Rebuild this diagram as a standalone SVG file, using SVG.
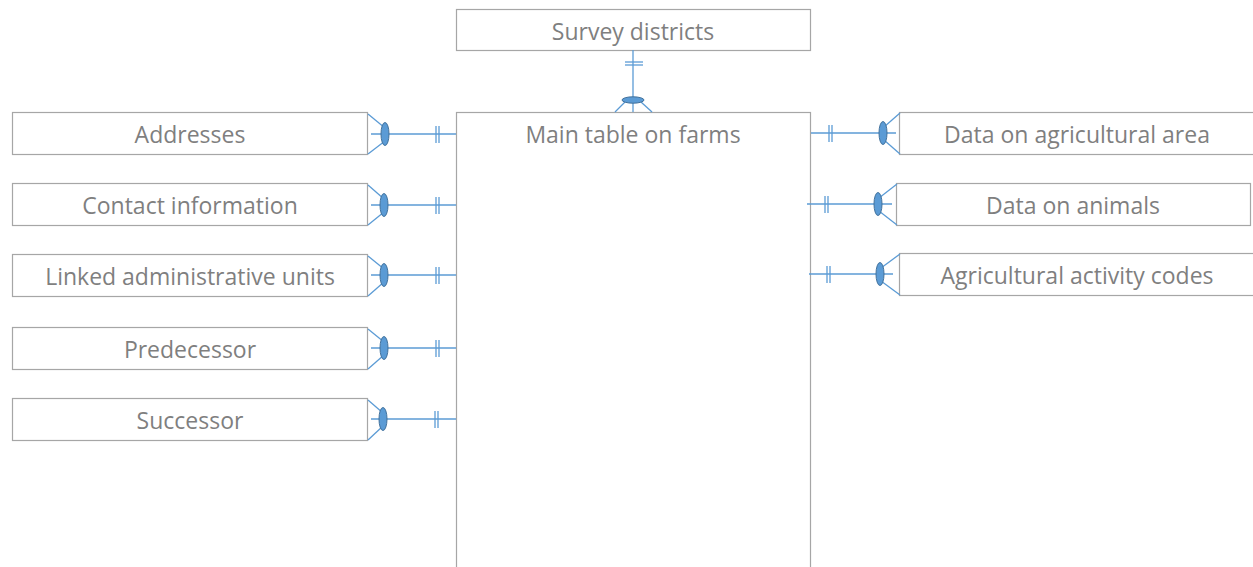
<svg xmlns="http://www.w3.org/2000/svg" width="1253" height="567" viewBox="0 0 1253 567">
  <defs>
    <style>
      .box { fill: #ffffff; stroke: #a6a6a6; stroke-width: 1.2; }
      .label { font-family: "Open Sans", "Noto Sans", sans-serif; font-size: 23px; fill: #7f7f7f; text-anchor: middle; dominant-baseline: central; }
      .rel { stroke: #5b9bd5; stroke-width: 1.3; fill: none; }
      .one { fill: #5b9bd5; stroke: #41719c; stroke-width: 1; }
    </style>
  </defs>

  <!-- Tables -->
  <g id="survey-districts">
    <rect class="box" x="456.5" y="9.5" width="354" height="41"/>
    <text class="label" x="633" y="31">Survey districts</text>
  </g>
  <g id="main-table">
    <rect class="box" x="456.5" y="112.5" width="354" height="470"/>
    <text class="label" x="633" y="134">Main table on farms</text>
  </g>
  <g id="addresses">
    <rect class="box" x="12.5" y="112.5" width="355" height="42"/>
    <text class="label" x="190" y="134">Addresses</text>
  </g>
  <g id="contact-information">
    <rect class="box" x="12.5" y="183.5" width="355" height="42"/>
    <text class="label" x="190" y="205">Contact information</text>
  </g>
  <g id="linked-administrative-units">
    <rect class="box" x="12.5" y="254.5" width="355" height="42"/>
    <text class="label" x="190" y="276">Linked administrative units</text>
  </g>
  <g id="predecessor">
    <rect class="box" x="12.5" y="327.5" width="355" height="42"/>
    <text class="label" x="190" y="349">Predecessor</text>
  </g>
  <g id="successor">
    <rect class="box" x="12.5" y="398.5" width="355" height="42"/>
    <text class="label" x="190" y="420">Successor</text>
  </g>
  <g id="data-on-agricultural-area">
    <rect class="box" x="899.5" y="112.5" width="360" height="42"/>
    <text class="label" x="1077" y="134">Data on agricultural area</text>
  </g>
  <g id="data-on-animals">
    <rect class="box" x="896.5" y="183.5" width="354" height="42"/>
    <text class="label" x="1073" y="205">Data on animals</text>
  </g>
  <g id="agricultural-activity-codes">
    <rect class="box" x="899.5" y="253.5" width="360" height="42"/>
    <text class="label" x="1077" y="275">Agricultural activity codes</text>
  </g>

  <!-- Relationships: one-and-only-one at the main table, crow's foot with ring at the child -->
  <g id="connectors">
    <!-- Survey districts -->
    <g>
      <line class="rel" x1="633" y1="50" x2="633" y2="112"/>
      <line class="rel" x1="625" y1="62" x2="643" y2="62"/>
      <line class="rel" x1="625" y1="65" x2="643" y2="65"/>
      <line class="rel" x1="625" y1="102" x2="615" y2="112"/>
      <line class="rel" x1="641" y1="102" x2="652" y2="112"/>
      <ellipse class="one" cx="633" cy="100" rx="11" ry="3.2"/>
    </g>

    <!-- Left side -->
    <g>
      <line class="rel" x1="371" y1="134" x2="456" y2="134"/>
      <line class="rel" x1="436" y1="126" x2="436" y2="143"/>
      <line class="rel" x1="439" y1="126" x2="439" y2="143"/>
      <line class="rel" x1="368" y1="114" x2="385" y2="128"/>
      <line class="rel" x1="368" y1="154" x2="385" y2="141"/>
      <ellipse class="one" cx="385" cy="134" rx="4" ry="11.5"/>
    </g>
    <g>
      <line class="rel" x1="371" y1="205" x2="456" y2="205"/>
      <line class="rel" x1="436" y1="197" x2="436" y2="214"/>
      <line class="rel" x1="439" y1="197" x2="439" y2="214"/>
      <line class="rel" x1="368" y1="185" x2="384" y2="199"/>
      <line class="rel" x1="368" y1="225" x2="384" y2="212"/>
      <ellipse class="one" cx="384" cy="205" rx="4" ry="11.5"/>
    </g>
    <g>
      <line class="rel" x1="371" y1="275" x2="456" y2="275"/>
      <line class="rel" x1="436" y1="267" x2="436" y2="284"/>
      <line class="rel" x1="439" y1="267" x2="439" y2="284"/>
      <line class="rel" x1="368" y1="256" x2="384" y2="269"/>
      <line class="rel" x1="368" y1="296" x2="384" y2="282"/>
      <ellipse class="one" cx="384" cy="275" rx="4" ry="11.5"/>
    </g>
    <g>
      <line class="rel" x1="371" y1="348" x2="456" y2="348"/>
      <line class="rel" x1="436" y1="340" x2="436" y2="357"/>
      <line class="rel" x1="439" y1="340" x2="439" y2="357"/>
      <line class="rel" x1="368" y1="329" x2="384" y2="342"/>
      <line class="rel" x1="368" y1="369" x2="384" y2="355"/>
      <ellipse class="one" cx="384" cy="348" rx="4" ry="11.5"/>
    </g>
    <g>
      <line class="rel" x1="371" y1="419" x2="456" y2="419"/>
      <line class="rel" x1="435" y1="411" x2="435" y2="428"/>
      <line class="rel" x1="438" y1="411" x2="438" y2="428"/>
      <line class="rel" x1="368" y1="400" x2="383" y2="413"/>
      <line class="rel" x1="368" y1="440" x2="383" y2="426"/>
      <ellipse class="one" cx="383" cy="419" rx="4" ry="11.5"/>
    </g>

    <!-- Right side -->
    <g>
      <line class="rel" x1="811" y1="133" x2="896" y2="133"/>
      <line class="rel" x1="829" y1="125" x2="829" y2="142"/>
      <line class="rel" x1="832" y1="125" x2="832" y2="142"/>
      <line class="rel" x1="900" y1="113" x2="884" y2="127"/>
      <line class="rel" x1="900" y1="154" x2="884" y2="140"/>
      <ellipse class="one" cx="883" cy="133" rx="4" ry="11.5"/>
    </g>
    <g>
      <line class="rel" x1="807" y1="204" x2="892" y2="204"/>
      <line class="rel" x1="825" y1="196" x2="825" y2="213"/>
      <line class="rel" x1="828" y1="196" x2="828" y2="213"/>
      <line class="rel" x1="897" y1="184" x2="879" y2="198"/>
      <line class="rel" x1="897" y1="225" x2="879" y2="211"/>
      <ellipse class="one" cx="878" cy="204" rx="4" ry="11.5"/>
    </g>
    <g>
      <line class="rel" x1="809" y1="274" x2="893" y2="274"/>
      <line class="rel" x1="827" y1="266" x2="827" y2="283"/>
      <line class="rel" x1="830" y1="266" x2="830" y2="283"/>
      <line class="rel" x1="900" y1="254" x2="881" y2="268"/>
      <line class="rel" x1="900" y1="295" x2="881" y2="281"/>
      <ellipse class="one" cx="880" cy="274" rx="4" ry="11.5"/>
    </g>
  </g>
</svg>
